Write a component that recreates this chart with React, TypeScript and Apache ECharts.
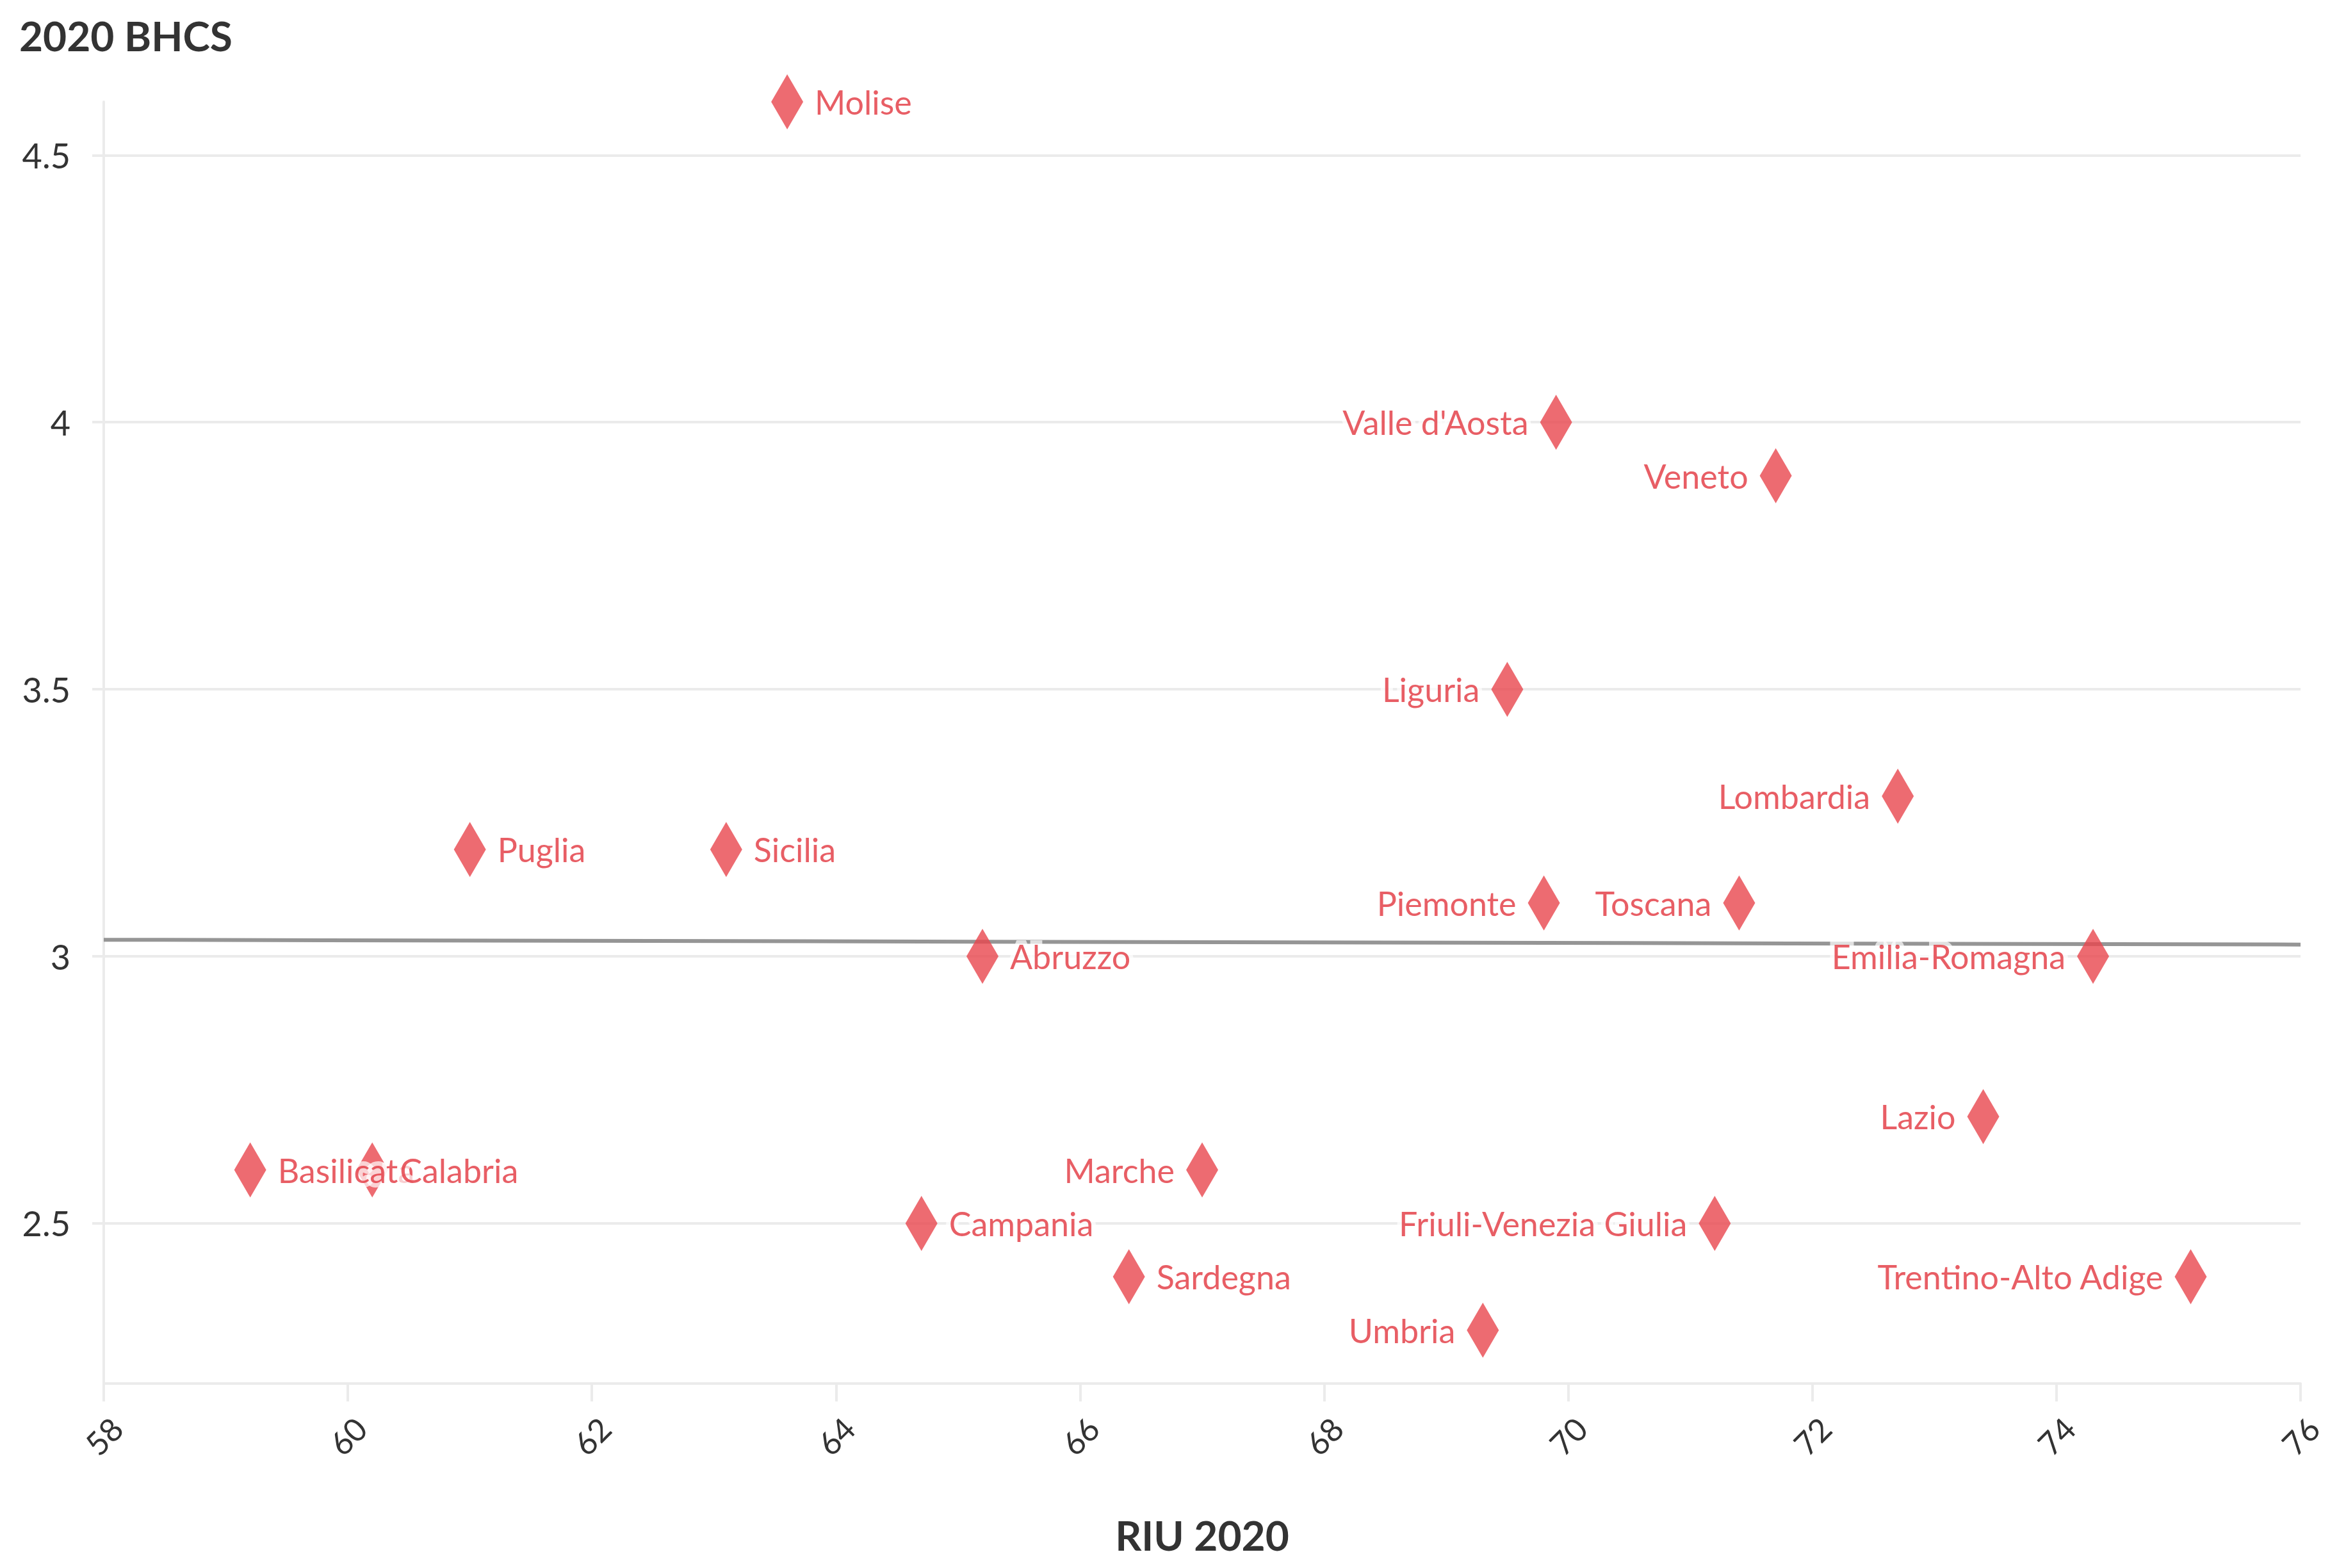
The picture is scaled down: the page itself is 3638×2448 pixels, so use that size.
import React, { useEffect, useRef } from "react";
import * as echarts from "echarts";

const regions = [
  "Molise", "Valle d'Aosta", "Veneto", "Liguria", "Lombardia", "Puglia", "Sicilia",
  "Piemonte", "Toscana", "Abruzzo", "Emilia-Romagna", "Lazio", "Basilicata", "Calabria",
  "Marche", "Campania", "Friuli-Venezia Giulia", "Sardegna", "Trentino-Alto Adige", "Umbria",
];
const riu2020 = [63.6, 69.9, 71.7, 69.5, 72.7, 61.0, 63.1, 69.8, 71.4, 65.2, 74.3, 73.4, 59.2, 60.2, 67.0, 64.7, 71.2, 66.4, 75.1, 69.3];
const bhcs2020 = [4.6, 4.0, 3.9, 3.5, 3.3, 3.2, 3.2, 3.1, 3.1, 3.0, 3.0, 2.7, 2.6, 2.6, 2.6, 2.5, 2.5, 2.4, 2.4, 2.3];

const trendX = [58, 76];
const trendY = [3.031, 3.022];

const yTicks = [2.5, 3, 3.5, 4, 4.5];

const leftLabelled = new Set([
  "Valle d'Aosta", "Veneto", "Liguria", "Lombardia", "Piemonte", "Toscana",
  "Emilia-Romagna", "Lazio", "Marche", "Friuli-Venezia Giulia", "Trentino-Alto Adige", "Umbria",
]);

const FONT = "'Source Sans Pro', Lato, 'Noto Sans', sans-serif";
const RED = "#e8464e";
const LABEL_RED = "#e2363f";
const GRID = "#ebebeb";

export default function App() {
  const ref = useRef<HTMLDivElement>(null);
  useEffect(() => {
    document.body.style.margin = "0";
    const chart = echarts.init(ref.current!, null, { renderer: "svg" });
    const points = regions.map((name, i) => ({
      name,
      value: [riu2020[i], bhcs2020[i]],
      label: { position: leftLabelled.has(name) ? "left" : "right" },
    }));
    chart.setOption({
      animation: false,
      backgroundColor: "#ffffff",
      title: {
        text: "2020 BHCS",
        left: 25,
        top: 18,
        textStyle: { fontFamily: FONT, fontSize: 64, fontWeight: "bold", color: "#333333" },
      },
      grid: { left: 162, right: 46, top: 159, bottom: 288, containLabel: false },
      xAxis: {
        type: "value",
        min: 58,
        max: 76,
        interval: 2,
        name: "RIU 2020",
        nameLocation: "middle",
        nameGap: 204,
        nameTextStyle: { fontFamily: FONT, fontSize: 64, fontWeight: "bold", color: "#333333" },
        axisLine: { show: true, lineStyle: { color: GRID, width: 4 } },
        axisTick: { show: true, length: 28, lineStyle: { color: GRID, width: 4 } },
        axisLabel: {
          rotate: 45,
          margin: 82,
          align: "center",
          verticalAlign: "middle",
          fontFamily: FONT,
          fontSize: 50,
          color: "#333333",
        },
        splitLine: { show: false },
      },
      yAxis: {
        type: "value",
        min: 2.2,
        max: 4.6,
        axisLine: { show: true, lineStyle: { color: GRID, width: 4 } },
        axisTick: { show: true, length: 18, customValues: yTicks, lineStyle: { color: GRID, width: 4 } },
        axisLabel: { margin: 52, customValues: yTicks, fontFamily: FONT, fontSize: 54, color: "#333333" },
        splitLine: { show: false },
      },
      series: [
        {
          type: "line",
          z: 1,
          silent: true,
          symbol: "none",
          data: trendX.map((x, i) => [x, trendY[i]]),
          lineStyle: { color: "#959595", width: 6 },
          markLine: {
            z: 0,
            silent: true,
            symbol: "none",
            label: { show: false },
            lineStyle: { color: GRID, width: 4, type: "solid" },
            data: yTicks.map((v) => ({ yAxis: v })),
          },
        },
        {
          type: "scatter",
          z: 3,
          symbol: "diamond",
          symbolSize: [50, 86],
          itemStyle: { color: RED },
          label: {
            show: true,
            formatter: "{b}",
            distance: 18,
            fontFamily: FONT,
            fontSize: 52,
            color: LABEL_RED,
            textBorderColor: "rgba(255,255,255,0.88)",
            textBorderWidth: 14,
          },
          labelLayout: { hideOverlap: false },
          data: points,
        },
      ],
    });
    return () => chart.dispose();
  }, []);
  return <div ref={ref} style={{ width: 3638, height: 2448 }} />;
}
